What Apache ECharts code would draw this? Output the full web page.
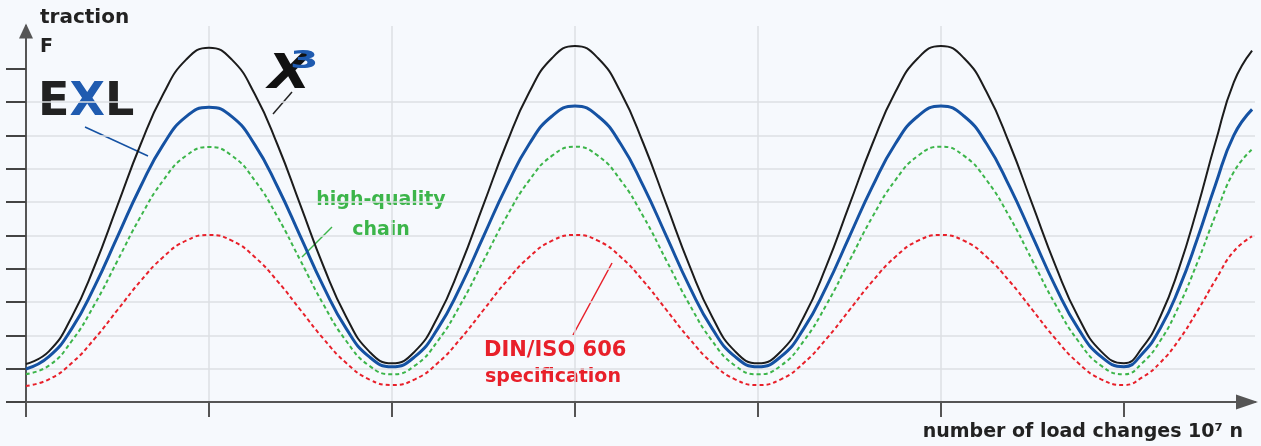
<!DOCTYPE html>
<html><head><meta charset="utf-8">
<script src="https://cdn.jsdelivr.net/npm/echarts@6/dist/echarts.min.js"></script>
<style>html,body{margin:0;padding:0;background:#f6f9fd}#c{width:1261px;height:446px}</style>
</head><body><div id="c"></div>
<script>
// x: number of load changes (one unit = one vertical grid division)
const xs = [0,0.125,0.25,0.375,0.5,0.625,0.75,0.875,1,1.125,1.25,1.375,1.5,1.625,1.75,1.875,
  2,2.125,2.25,2.375,2.5,2.625,2.75,2.875,3,3.125,3.25,3.375,3.5,3.625,3.75,3.875,
  4,4.125,4.25,4.375,4.5,4.625,4.75,4.875,5,5.125,5.25,5.375,5.5,5.625,5.75,5.875,
  6,6.1,6.2,6.3,6.4,6.5,6.6,6.7];
// traction F (one unit = one horizontal grid division)
const chainX3 = [1.14,1.52,2.55,4.08,5.90,7.71,9.24,10.27,10.63,10.27,9.24,7.71,5.90,4.08,2.55,1.52,
  1.16,1.52,2.55,4.10,5.92,7.74,9.29,10.32,10.68,10.32,9.29,7.74,5.92,4.10,2.55,1.52,
  1.16,1.52,2.55,4.10,5.92,7.74,9.29,10.32,10.68,10.32,9.29,7.74,5.92,4.10,2.55,1.52,
  1.16,1.63,2.58,4.00,5.80,7.79,9.59,10.54];
const chainEXL = [0.99,1.36,2.20,3.47,4.96,6.45,7.72,8.56,8.84,8.56,7.72,6.45,4.96,3.47,2.20,1.36,
  1.06,1.36,2.20,3.47,4.97,6.46,7.74,8.58,8.88,8.58,7.74,6.46,4.97,3.47,2.20,1.36,
  1.06,1.36,2.20,3.47,4.97,6.46,7.74,8.58,8.88,8.58,7.74,6.46,4.97,3.47,2.20,1.36,
  1.06,1.45,2.23,3.40,4.88,6.52,8.00,8.78];
const chainHQ = [0.84,1.09,1.83,2.93,4.24,5.55,6.65,7.39,7.65,7.39,6.65,5.55,4.24,2.93,1.83,1.09,
  0.83,1.09,1.83,2.93,4.24,5.55,6.65,7.39,7.66,7.39,6.65,5.55,4.24,2.93,1.83,1.09,
  0.83,1.09,1.83,2.93,4.24,5.55,6.65,7.39,7.66,7.39,6.65,5.55,4.24,2.93,1.83,1.09,
  0.83,1.17,1.85,2.88,4.17,5.60,6.90,7.58];
const chainDIN = [0.48,0.68,1.17,1.90,2.76,3.62,4.35,4.84,5.01,4.84,4.35,3.62,2.76,1.90,1.17,0.68,
  0.51,0.68,1.17,1.90,2.76,3.62,4.35,4.84,5.01,4.84,4.35,3.62,2.76,1.90,1.17,0.68,
  0.51,0.68,1.17,1.90,2.76,3.62,4.35,4.84,5.01,4.84,4.35,3.62,2.76,1.90,1.17,0.68,
  0.51,0.74,1.19,1.86,2.72,3.66,4.52,4.97];
const xTicks = [0,1,2,3,4,5,6];
const yTicks = [0,1,2,3,4,5,6,7,8,9,10];

const pairs = ys => xs.map((x, i) => [x, ys[i]]);
const FONT = '"DejaVu Sans", sans-serif';
const chart = echarts.init(document.getElementById('c'), null, {renderer: 'canvas'});
const line = (name, ys, color, width, dash, z) => ({
  name, type: 'line', data: pairs(ys), smooth: 0.5, symbol: 'none', z,
  lineStyle: {color, width, type: dash || 'solid'}
});
chart.setOption({
  backgroundColor: '#f6f9fd',
  animation: false,
  grid: {left: 26, right: 6, top: 26, bottom: 44},
  xAxis: {
    type: 'value', min: 0, max: 6.716, interval: 1,
    axisLine: {show: true, onZero: false, symbol: ['none', 'triangle'], symbolSize: [15, 22], symbolOffset: [0, -8],
      lineStyle: {color: '#555', width: 2}},
    axisTick: {show: true, length: 15, customValues: xTicks, lineStyle: {color: '#555', width: 2}},
    axisLabel: {show: false},
    splitLine: {show: true, showMinLine: false, showMaxLine: false, lineStyle: {color: '#dcdfe3', width: 1.5}}
  },
  yAxis: {
    type: 'value', min: 0, max: 11.28, interval: 1,
    axisLine: {show: true, onZero: false, symbol: ['none', 'triangle'], symbolSize: [14, 15], symbolOffset: [0, -5],
      lineStyle: {color: '#555', width: 2}},
    axisTick: {show: true, length: 20, customValues: yTicks, lineStyle: {color: '#444', width: 2}},
    axisLabel: {show: false},
    splitLine: {show: true, showMinLine: false, showMaxLine: false, lineStyle: {color: '#dcdfe3', width: 1.5}}
  },
  series: [
    line('DIN/ISO 606 specification', chainDIN, '#e8202a', 2, [4, 3], 2),
    line('high-quality chain', chainHQ, '#3cb54a', 2, [4, 3], 3),
    line('EXL', chainEXL, '#1552a3', 3, null, 4),
    line('X3', chainX3, '#1c1c1c', 2, null, 5)
  ],
  graphic: [
    {type: 'text', x: 40, y: 8, style: {text: 'traction', font: 'bold 20px ' + FONT, fill: '#222', align: 'left', verticalAlign: 'top'}},
    {type: 'text', x: 40, y: 38, style: {text: 'F', font: 'bold 19px ' + FONT, fill: '#222', align: 'left', verticalAlign: 'top'}},
    {type: 'text', x: 1243, y: 423, style: {text: 'number of load changes 10\u2077 n', font: 'bold 19px ' + FONT, fill: '#222', align: 'right', verticalAlign: 'top'}},
    {type: 'text', x: 38, y: 80, style: {text: '{k|E}{b|X}{k|L}', align: 'left', verticalAlign: 'top',
      rich: {k: {fill: '#222', font: 'bold 46px ' + FONT}, b: {fill: '#1f5bb0', font: 'bold 46px ' + FONT}}}},
    {type: 'text', x: 268, y: 52, scaleX: 1.15, style: {text: 'X', font: 'italic bold 48px ' + FONT, fill: '#111', align: 'left', verticalAlign: 'top'}},
    {type: 'text', x: 290, y: 50, scaleX: 1.7, style: {text: '3', font: 'bold 24px ' + FONT, fill: '#1f5bb0', align: 'left', verticalAlign: 'top'}},
    {type: 'line', shape: {x1: 85, y1: 127, x2: 148, y2: 156}, style: {stroke: '#1552a3', lineWidth: 1.5}},
    {type: 'line', shape: {x1: 292, y1: 92, x2: 273, y2: 114}, style: {stroke: '#222', lineWidth: 1.5}},
    {type: 'line', shape: {x1: 332, y1: 227, x2: 302, y2: 257}, style: {stroke: '#3cb54a', lineWidth: 1.5}},
    {type: 'line', shape: {x1: 612, y1: 263, x2: 573, y2: 335}, style: {stroke: '#e8202a', lineWidth: 1.5}},
    {type: 'text', x: 381, y: 191, style: {text: 'high-quality', font: 'bold 19px ' + FONT, fill: '#3cb54a', align: 'center', verticalAlign: 'top'}},
    {type: 'text', x: 381, y: 221, style: {text: 'chain', font: 'bold 19px ' + FONT, fill: '#3cb54a', align: 'center', verticalAlign: 'top'}},
    {type: 'text', x: 484, y: 340, style: {text: 'DIN/ISO 606', font: 'bold 21px ' + FONT, fill: '#e8202a', align: 'left', verticalAlign: 'top'}},
    {type: 'text', x: 485, y: 368, style: {text: 'specification', font: 'bold 19px ' + FONT, fill: '#e8202a', align: 'left', verticalAlign: 'top'}}
  ]
});
</script></body></html>
